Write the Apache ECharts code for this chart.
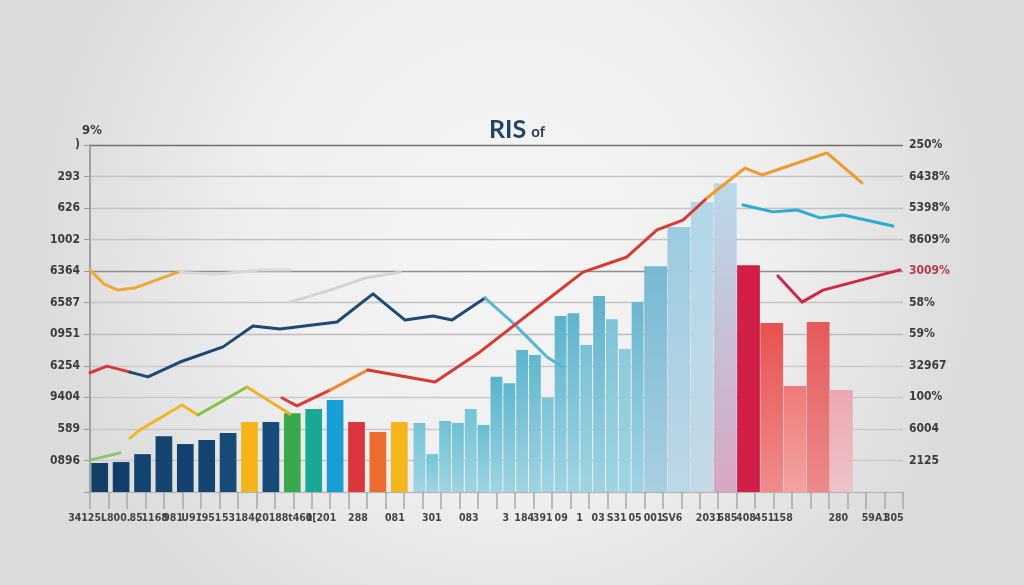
<!DOCTYPE html>
<html><head><meta charset="utf-8">
<script src="https://cdn.jsdelivr.net/npm/echarts@6/dist/echarts.min.js"></script>
<style>html,body{margin:0;padding:0;background:#ececec}#c{width:1024px;height:585px}</style>
</head><body><div id="c"></div>
<script>
// ---- tick labels ----
const leftLabels = ['', '0896', '589', '9404', '6254', '0951', '6587', '6364', '1002', '626', '293', ')'];
const rightLabels = ['', '2125', '6004', '100%', '32967', '59%', '58%', '3009%', '8609%', '5398%', '6438%', '250%'];
const xLabels = ['34125L800.', '', '85', '1168', '981', 'U91', "'951", '53', '184(', '201', '88t', '461',
  '0[201', '', '288', '', '081', '', '301', '', '083', '', '3', '184', '391', '09', '1', '03', 'S31', '05',
  '001', 'SV6', '', '2031', '685', '408', '451', '158', '', '', '280', '', '59A1', '305'];

// ---- bar values (three groups of bars) ----
const groupA = [0.92, 0.95, 1.20, 1.77, 1.52, 1.65, 1.87, 2.22, 2.22, 2.50, 2.63, 2.92, 2.22, 1.90, 2.22];
const groupB = [2.19, 1.20, 2.25, 2.19, 2.63, 2.12, 3.65, 3.45, 4.50, 4.34, 2.98, 5.58, 5.67, 4.66, 6.21, 5.48, 4.53, 6.02];
const groupC = [7.16, 8.40, 9.19, 9.79, 7.19, 5.36, 3.36, 5.39, 3.23];

// ---- line values: [x (% of span), y] ----
const orangeTopLeft = [[0, 7.04], [1.72, 6.59], [3.44, 6.40], [5.54, 6.47], [10.82, 6.97]];
const grayA = [[10.82, 6.97], [15.5, 6.90], [20.91, 7.04], [24.6, 7.04]];
const grayB = [[24.6, 6.02], [29.52, 6.40], [33.83, 6.78], [38.13, 6.97]];
const redLeft = [[0, 3.78], [2.09, 3.99], [4.92, 3.80]];
const navyLine = [[4.92, 3.80], [7.13, 3.65], [11.07, 4.12], [16.36, 4.60], [20.05, 5.26], [23.37, 5.17],
  [30.38, 5.39], [34.81, 6.28], [38.75, 5.45], [42.19, 5.58], [44.53, 5.45], [48.59, 6.15]];
const lightBlueDrop = [[48.59, 6.15], [52.03, 5.36], [56.21, 4.28], [58.18, 3.96]];
const greenLow = [[0, 1.01], [3.69, 1.24]];
const yellowLow = [[4.92, 1.71], [6.15, 1.97], [11.32, 2.76], [13.28, 2.44]];
const greenMid = [[13.28, 2.44], [19.31, 3.33]];
const yellowMid = [[19.31, 3.33], [24.6, 2.47]];
const redA = [[23.62, 2.98], [25.46, 2.73], [29.52, 3.23]];
const orangeA = [[29.52, 3.23], [34.19, 3.87]];
const redRise = [[34.19, 3.87], [42.44, 3.49], [47.97, 4.44], [55.72, 5.99], [60.64, 6.97], [66.05, 7.45],
  [69.74, 8.31], [72.94, 8.62], [75.89, 9.32]];
const orangeTop = [[75.89, 9.32], [80.57, 10.27], [82.66, 10.05], [90.65, 10.75], [94.96, 9.80]];
const cyanRight = [[80.32, 9.10], [84.01, 8.88], [86.96, 8.94], [89.79, 8.69], [92.62, 8.78], [98.77, 8.43]];
const crimsonRight = [[84.62, 6.85], [87.58, 6.02], [90.16, 6.40], [99.63, 7.04]];

// ---- styles ----
const colorsA = ['#123f6a', '#123f6a', '#144470', '#144470', '#134270', '#134472', '#164a78', '#f5b519',
  '#174c7a', '#3aa94c', '#19a893', '#189dd4', '#dc353b', '#ec6b2e', '#f5b51c'];
const colorsB = ['#74c5d6', '#74c5d6', '#6ec2d4', '#6bc0d3', '#72c4d6', '#66bed2', '#57b4cd', '#5db7ce',
  '#5ab5cd', '#61b8cf', '#7bc4d8', '#5bb3cc', '#5fb5cd', '#79c1d6', '#5fb2cb', '#7fc3d7', '#8ccadc', '#6cb6cf'];
const colorsC = ['#78b8d3', '#9ccbe0', '#b2d7e8', '#b9d9ea', '#d11f48', '#e8514f', '#ee7a77', '#e55a5b', '#eba7b1'];
const fadeC = ['#a9cfe0', '#bcd8e6', '#c4d8e5', '#d6a6c2', '#d11f48', '#ef8d8c', '#f2a4a2', '#ec8a8b', '#efc3c9'];

function grad(top, bottom) {
  return new echarts.graphic.LinearGradient(0, 0, 0, 1, [{offset: 0, color: top}, {offset: 1, color: bottom}]);
}

const chart = echarts.init(document.getElementById('c'));
const GT = 145, GB = 93;
const hiddenY = (gi) => ({type: 'value', gridIndex: gi, min: 0, max: 11, interval: 1, show: false});
const hiddenX = (gi, n) => ({type: 'category', gridIndex: gi, data: n.map((_, i) => i), show: false});

function line(name, data, color, opts) {
  return Object.assign({
    type: 'line', name, data, xAxisIndex: 1, yAxisIndex: 0, symbol: 'none', z: 5,
    lineStyle: {color, width: 3, cap: 'round', join: 'round'}
  }, opts || {});
}

const gridSplitColors = ['#c9c9c9', '#c9c9c9', '#c9c9c9', '#c9c9c9', '#c9c9c9', '#bdbdbd', '#c4c4c4',
  '#8f8f8f', '#c4c4c4', '#c4c4c4', '#c4c4c4', '#6f6f6f'];

chart.setOption({
  backgroundColor: new echarts.graphic.RadialGradient(0.5, 0.4, 0.8, [
    {offset: 0, color: '#f5f5f5'}, {offset: 0.55, color: '#efefef'}, {offset: 1, color: '#dddcdc'}]),
  animation: false,
  title: {
    text: '{a|RIS} {b|of}', left: 484, top: 112,
    textStyle: {rich: {
      a: {fontFamily: 'Lato', fontWeight: 'bold', fontSize: 25, color: '#1f4566'},
      b: {fontFamily: 'Lato', fontSize: 15, color: '#2a3e54', padding: [6, 0, 0, 0]}
    }}
  },
  grid: [
    {left: 90, right: 121, top: GT, bottom: GB},
    {left: 89, width: 321, top: GT, bottom: GB},
    {left: 413, width: 231, top: GT, bottom: GB},
    {left: 644, width: 209, top: GT, bottom: GB}
  ],
  xAxis: [
    {type: 'category', gridIndex: 0, data: xLabels, position: 'bottom',
      axisLine: {show: true, lineStyle: {color: '#b5b5b5', width: 1}},
      axisTick: {show: true, length: 17, lineStyle: {color: '#a8a8a8', width: 1.5}},
      axisLabel: {interval: 0, hideOverlap: false, margin: 21, fontSize: 10.5, fontWeight: 'bold',
        fontFamily: 'DejaVu Sans Condensed', color: '#444444'}},
    {type: 'value', gridIndex: 0, min: 0, max: 100, position: 'top', show: false},
    hiddenX(1, groupA), hiddenX(2, groupB), hiddenX(3, groupC)
  ],
  yAxis: [
    {type: 'value', gridIndex: 0, min: 0, max: 11, interval: 1, position: 'left',
      name: '9%', nameLocation: 'end', nameGap: 8,
      nameTextStyle: {fontFamily: 'DejaVu Sans Condensed', fontWeight: 'bold', fontSize: 13, color: '#3a3a3a', align: 'left', padding: [0, 0, 0, -8]},
      axisLine: {show: true, lineStyle: {color: '#a0a0a0', width: 2}},
      axisTick: {show: true, length: 6, lineStyle: {color: '#9a9a9a'}},
      axisLabel: {margin: 10, fontSize: 12, fontWeight: 'bold', fontFamily: 'DejaVu Sans Condensed', color: '#3c3c3c',
        formatter: (v) => leftLabels[Math.round(v)] || ''},
      splitLine: {show: true, lineStyle: {color: gridSplitColors, width: 1.4}}},
    {type: 'value', gridIndex: 0, min: 0, max: 11, interval: 1, position: 'right',
      axisLine: {show: false}, axisTick: {show: false}, splitLine: {show: false},
      axisLabel: {margin: 6, fontSize: 12, fontWeight: 'bold', fontFamily: 'DejaVu Sans Condensed',
        color: (v) => (Math.round(v) === 7 ? '#b23a4a' : '#3c3c3c'),
        formatter: (v) => rightLabels[Math.round(v)] || ''}},
    hiddenY(1), hiddenY(2), hiddenY(3)
  ],
  series: [
    {type: 'bar', name: 'Group A', xAxisIndex: 2, yAxisIndex: 2, barCategoryGap: '22%', z: 2,
      data: groupA.map((v, i) => ({value: v, itemStyle: {color: colorsA[i]}}))},
    {type: 'bar', name: 'Group B', xAxisIndex: 3, yAxisIndex: 3, barCategoryGap: '8%', z: 2,
      data: groupB.map((v, i) => ({value: v, itemStyle: {color: grad(colorsB[i], '#9fd4e2')}}))},
    {type: 'bar', name: 'Group C', xAxisIndex: 4, yAxisIndex: 4, barCategoryGap: '2%', z: 2,
      data: groupC.map((v, i) => ({value: v, itemStyle: {color: grad(colorsC[i], fadeC[i])}}))},
    line('orangeTopLeft', orangeTopLeft, '#eea935'),
    line('grayA', grayA, '#d8d8d8', {z: 4}),
    line('grayB', grayB, '#d3d3d3', {z: 4}),
    line('redLeft', redLeft, '#d63a3c'),
    line('navy', navyLine, '#1c4a75'),
    line('lightBlueDrop', lightBlueDrop, '#55b6d3'),
    line('greenLow', greenLow, '#8fc46a'),
    line('yellowLow', yellowLow, '#f2b624'),
    line('greenMid', greenMid, '#86c144'),
    line('yellowMid', yellowMid, '#f1b02c'),
    line('redA', redA, '#d93c36'),
    line('orangeA', orangeA, '#ef8a2d'),
    line('redRise', redRise, '#d9392f'),
    line('orangeTop', orangeTop, '#f19a2c'),
    line('cyanRight', cyanRight, '#2cadd0'),
    line('crimsonRight', crimsonRight, '#cf2746')
  ]
});
</script>
</body></html>
